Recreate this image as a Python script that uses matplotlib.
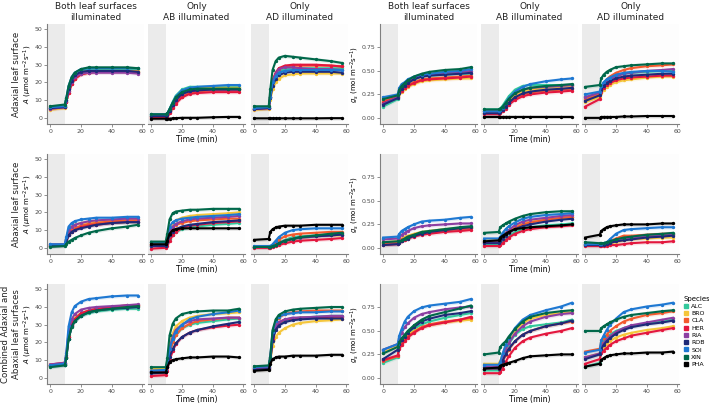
import matplotlib
matplotlib.use('Agg')
import numpy as np
import matplotlib.pyplot as plt
from matplotlib.lines import Line2D

species = ['ALC', 'BRO', 'CLA', 'HER', 'RIA', 'ROB', 'SOI', 'XIN', 'PHA']
colours = ['#33c99c', '#f5c63a', '#f35a2e', '#e3173e', '#8c3fa2', '#1f2a78', '#1e78d2', '#00684a', '#000000']
time_pts = [0, 9.5, 10.5, 12, 14, 16, 20, 25, 30, 40, 50, 57]

col_titles = ['Both leaf surfaces\nilluminated', 'Only\nAB illuminated', 'Only\nAD illuminated']
row_titles = ['Adaxial leaf surface', 'Abaxial leaf surface', 'Combined Adaxial and\nAbaxial leaf surfaces']

# ribbon half widths (SE)
a_se = 1.0
gs_se = 0.02

# ---- A, adaxial ----
a_adax_both = [
    [5.5, 6.5, 10, 16, 21, 24, 26.5, 27.5, 27.5, 27.5, 27.5, 27.5],
    [4.5, 5.5, 9, 15, 20, 23, 25.5, 26.5, 26.5, 26.5, 26.5, 26.5],
    [5, 6, 9, 14, 19, 22, 24.5, 25.5, 26, 26, 26, 26],
    [5.5, 6, 9, 14, 19, 22, 24.5, 25.5, 26, 26, 26, 25.5],
    [5, 6, 9.5, 15, 20, 23, 25, 25.5, 25.5, 25.5, 25.5, 25],
    [5.5, 6, 10, 16, 21, 24, 26, 26.5, 26.5, 26.5, 26.5, 26],
    [6, 6.5, 11, 18, 23, 25.5, 27.5, 28, 28, 28, 28, 28],
    [6.5, 7.5, 11, 18, 23, 25.5, 27.5, 28.5, 28.5, 28.5, 28.5, 28],
]
a_adax_ab = [
    [1.5, 1.5, 2, 5, 9, 12.5, 16, 17.5, 17.5, 17.5, 17.5, 17.5],
    [1, 1, 1.5, 4, 7.5, 10.5, 14, 16, 16.5, 17, 17, 17],
    [0.5, 0.5, 1, 3, 6, 8.5, 12, 14, 15, 15.5, 15.5, 15.5],
    [0, 0, 0.5, 2.5, 5.5, 8, 11.5, 13.5, 14, 14.5, 14.5, 14.5],
    [1, 1, 1.5, 4, 7, 10, 13.5, 15, 15.5, 16, 16, 16],
    [1, 1, 1.5, 4, 7, 10, 13.5, 15, 15.5, 16, 16, 16],
    [2, 2, 2.5, 5, 8.5, 12, 15.5, 17, 17.5, 18, 18.5, 18.5],
    [2, 2, 2.5, 5, 8.5, 11.5, 14.5, 16, 16.5, 16.5, 16.5, 16.5],
    [-0.5, -0.5, -0.5, -0.5, -0.3, -0.2, 0, 0, 0, 0.3, 0.5, 0.5],
]
a_adax_ad = [
    [5, 5.5, 12, 20, 24, 26, 27.5, 28, 28, 28, 28, 28],
    [4.5, 5, 10, 16, 20, 22, 24, 24.5, 25, 25, 25, 25],
    [5, 5.5, 12, 21, 25, 27.5, 29, 29.5, 29.5, 29.5, 29.5, 29],
    [5, 5.5, 12, 21, 25.5, 28, 29.5, 30, 30, 30, 29.5, 29],
    [5, 5.5, 12, 20, 25, 27.5, 28.5, 28.5, 28, 27.5, 27.5, 27],
    [5, 5.5, 11, 18, 22, 24, 25.5, 26, 26, 26, 26, 25.5],
    [5.5, 6, 12, 20, 23.5, 25.5, 26.5, 27, 27, 27, 27, 27],
    [6.5, 6.5, 16, 27, 32, 34, 35, 34.5, 34, 33, 32, 31],
    [-0.3, -0.3, -0.3, -0.3, -0.3, -0.3, -0.3, -0.3, -0.3, -0.3, -0.2, -0.2],
]

# ---- gs, adaxial ----
gs_adax_both = [
    [0.12, 0.2, 0.28, 0.31, 0.34, 0.37, 0.41, 0.44, 0.45, 0.46, 0.47, 0.47],
    [0.17, 0.23, 0.25, 0.28, 0.31, 0.33, 0.36, 0.39, 0.4, 0.41, 0.42, 0.42],
    [0.18, 0.23, 0.26, 0.29, 0.32, 0.35, 0.38, 0.41, 0.42, 0.43, 0.44, 0.45],
    [0.16, 0.22, 0.26, 0.29, 0.32, 0.34, 0.37, 0.4, 0.41, 0.42, 0.43, 0.44],
    [0.15, 0.22, 0.28, 0.32, 0.35, 0.38, 0.42, 0.45, 0.46, 0.48, 0.49, 0.5],
    [0.14, 0.21, 0.27, 0.31, 0.34, 0.37, 0.41, 0.44, 0.45, 0.46, 0.47, 0.48],
    [0.22, 0.25, 0.32, 0.36, 0.38, 0.41, 0.44, 0.46, 0.47, 0.49, 0.5, 0.52],
    [0.2, 0.24, 0.3, 0.34, 0.37, 0.4, 0.44, 0.47, 0.49, 0.51, 0.52, 0.54],
]
gs_adax_ab = [
    [0.09, 0.09, 0.1, 0.13, 0.18, 0.23, 0.3, 0.34, 0.35, 0.35, 0.35, 0.35],
    [0.07, 0.07, 0.08, 0.1, 0.14, 0.18, 0.24, 0.28, 0.3, 0.32, 0.33, 0.34],
    [0.05, 0.05, 0.06, 0.08, 0.11, 0.15, 0.21, 0.25, 0.27, 0.29, 0.3, 0.31],
    [0.04, 0.04, 0.05, 0.07, 0.1, 0.14, 0.19, 0.23, 0.25, 0.27, 0.28, 0.29],
    [0.07, 0.07, 0.08, 0.11, 0.15, 0.2, 0.26, 0.3, 0.32, 0.33, 0.34, 0.35],
    [0.05, 0.05, 0.06, 0.08, 0.12, 0.16, 0.22, 0.26, 0.28, 0.3, 0.31, 0.32],
    [0.07, 0.07, 0.08, 0.11, 0.16, 0.21, 0.28, 0.33, 0.36, 0.39, 0.41, 0.42],
    [0.09, 0.09, 0.1, 0.12, 0.16, 0.2, 0.26, 0.3, 0.32, 0.34, 0.35, 0.36],
    [0.01, 0.01, 0.01, 0.01, 0.01, 0.01, 0.01, 0.01, 0.01, 0.01, 0.01, 0.01],
]
gs_adax_ad = [
    [0.22, 0.26, 0.33, 0.37, 0.4, 0.42, 0.45, 0.47, 0.48, 0.49, 0.5, 0.5],
    [0.17, 0.22, 0.27, 0.3, 0.33, 0.35, 0.38, 0.4, 0.41, 0.43, 0.44, 0.44],
    [0.2, 0.25, 0.32, 0.37, 0.41, 0.44, 0.48, 0.51, 0.53, 0.55, 0.56, 0.57],
    [0.12, 0.2, 0.28, 0.32, 0.35, 0.37, 0.4, 0.42, 0.43, 0.44, 0.45, 0.45],
    [0.22, 0.27, 0.32, 0.36, 0.39, 0.41, 0.44, 0.47, 0.48, 0.5, 0.51, 0.52],
    [0.18, 0.24, 0.3, 0.34, 0.37, 0.39, 0.42, 0.44, 0.45, 0.46, 0.47, 0.47],
    [0.25, 0.28, 0.34, 0.38, 0.41, 0.43, 0.46, 0.48, 0.49, 0.5, 0.5, 0.49],
    [0.33, 0.35, 0.42, 0.46, 0.49, 0.51, 0.54, 0.55, 0.56, 0.57, 0.58, 0.58],
    [0.0, 0.0, 0.01, 0.01, 0.01, 0.01, 0.01, 0.015, 0.015, 0.02, 0.02, 0.02],
]

# ---- A, abaxial ----
a_abax_both = [
    [1, 1.5, 4, 8, 10, 11, 12, 13, 13.5, 14, 14.5, 14.5],
    [1.5, 2, 5, 10, 12, 13, 14, 14.5, 15, 15.5, 16, 16],
    [1.5, 2, 4, 8, 10, 11, 12.5, 13.5, 14, 15, 15.5, 15.5],
    [1, 1.5, 3.5, 7, 9, 10, 11.5, 12.5, 13, 14, 14.5, 14.5],
    [2, 2, 5, 10, 12, 13, 14, 15, 15.5, 16, 16.5, 16.5],
    [1, 1.5, 3.5, 7, 9, 10, 11, 12, 13, 14, 14.5, 14.5],
    [2, 2, 6, 12, 14, 15, 16, 16.5, 17, 17, 17.5, 17.5],
    [0.5, 1, 2, 3.5, 4.5, 5.5, 7, 8.5, 9.5, 11, 12, 13],
]
a_abax_ab = [
    [1, 1, 2, 5, 7.5, 9, 10.5, 11.5, 12, 13, 13.5, 14],
    [2, 2, 5, 11, 14, 15.5, 17, 18, 18.5, 19, 19.5, 20],
    [1.5, 1.5, 4, 9, 11.5, 13, 14, 15, 15.5, 16, 16.5, 16.5],
    [-0.5, 0, 1, 4, 7, 9, 11, 12.5, 13, 14, 14.5, 15],
    [1.5, 1.5, 4, 9, 12, 13.5, 15, 16, 16.5, 17, 17.5, 18],
    [1, 1, 3, 7, 9, 10.5, 12, 13, 13.5, 14.5, 15, 15.5],
    [3, 3, 6, 12, 14.5, 15.5, 16.5, 17, 17.5, 18, 18.5, 19],
    [3.5, 3.5, 8, 16, 19.5, 20.5, 21, 21.5, 21.5, 22, 22, 22],
    [2, 2, 4, 8, 10, 10.5, 11, 11, 11, 11, 11, 11],
]
a_abax_ad = [
    [0.5, 0.5, 0.5, 1, 2, 3, 4.5, 6, 6.5, 7, 7.5, 8],
    [0.5, 0.5, 0.5, 1, 1.5, 2.5, 4, 5, 5.5, 6.5, 7, 7],
    [0.5, 0.5, 0.5, 1.5, 3, 4.5, 6.5, 7.5, 8, 8.5, 9, 9],
    [0, 0, 0, 0.5, 1, 1.5, 2.5, 3.5, 4, 4.5, 5, 5.5],
    [0.5, 0.5, 0.5, 1, 1.5, 2.5, 4, 5, 5.5, 6.5, 7, 7.5],
    [0.5, 0.5, 0.5, 1, 1.5, 2.5, 4, 5, 6, 6.5, 7, 7.5],
    [1, 1, 1, 2, 4, 6, 8.5, 10, 10.5, 11, 11, 11],
    [0.5, 0.5, 0.5, 1, 1.5, 2.5, 4, 5, 6, 7, 8, 8.5],
    [4.5, 5, 9, 10.5, 11.5, 12, 12.5, 12.5, 12.5, 13, 13, 13],
]

# ---- gs, abaxial ----
gs_abax_both = [
    [0.05, 0.06, 0.07, 0.08, 0.1, 0.11, 0.13, 0.16, 0.17, 0.19, 0.2, 0.21],
    [0.06, 0.07, 0.08, 0.1, 0.12, 0.13, 0.15, 0.17, 0.18, 0.2, 0.21, 0.22],
    [0.05, 0.06, 0.07, 0.09, 0.1, 0.12, 0.14, 0.16, 0.17, 0.19, 0.2, 0.21],
    [0.03, 0.04, 0.05, 0.07, 0.08, 0.1, 0.12, 0.14, 0.15, 0.17, 0.18, 0.19],
    [0.09, 0.1, 0.12, 0.14, 0.16, 0.18, 0.21, 0.23, 0.24, 0.25, 0.26, 0.26],
    [0.03, 0.04, 0.05, 0.07, 0.09, 0.1, 0.13, 0.15, 0.17, 0.19, 0.21, 0.22],
    [0.11, 0.12, 0.15, 0.18, 0.2, 0.22, 0.25, 0.28, 0.29, 0.3, 0.32, 0.33],
    [0.06, 0.07, 0.07, 0.08, 0.1, 0.12, 0.14, 0.17, 0.18, 0.2, 0.22, 0.23],
]
gs_abax_ab = [
    [0.03, 0.03, 0.04, 0.06, 0.09, 0.12, 0.17, 0.2, 0.22, 0.24, 0.25, 0.26],
    [0.08, 0.08, 0.1, 0.13, 0.16, 0.19, 0.23, 0.26, 0.28, 0.3, 0.32, 0.33],
    [0.06, 0.06, 0.08, 0.11, 0.14, 0.17, 0.21, 0.25, 0.27, 0.3, 0.32, 0.33],
    [0.02, 0.02, 0.03, 0.05, 0.08, 0.11, 0.15, 0.18, 0.2, 0.22, 0.23, 0.24],
    [0.06, 0.06, 0.08, 0.12, 0.16, 0.19, 0.24, 0.28, 0.3, 0.32, 0.34, 0.35],
    [0.05, 0.05, 0.07, 0.1, 0.13, 0.16, 0.2, 0.23, 0.25, 0.28, 0.3, 0.31],
    [0.1, 0.1, 0.12, 0.16, 0.2, 0.23, 0.27, 0.31, 0.33, 0.35, 0.36, 0.37],
    [0.16, 0.17, 0.22, 0.24, 0.26, 0.28, 0.31, 0.34, 0.36, 0.38, 0.39, 0.39],
    [0.07, 0.08, 0.11, 0.13, 0.15, 0.17, 0.2, 0.21, 0.22, 0.23, 0.24, 0.25],
]
gs_abax_ad = [
    [0.04, 0.04, 0.04, 0.04, 0.05, 0.06, 0.08, 0.1, 0.11, 0.13, 0.14, 0.15],
    [0.03, 0.03, 0.03, 0.03, 0.04, 0.05, 0.06, 0.08, 0.09, 0.1, 0.11, 0.11],
    [0.03, 0.03, 0.03, 0.04, 0.05, 0.07, 0.1, 0.13, 0.13, 0.14, 0.15, 0.15],
    [0.02, 0.02, 0.02, 0.02, 0.02, 0.03, 0.03, 0.04, 0.05, 0.06, 0.06, 0.07],
    [0.04, 0.04, 0.04, 0.04, 0.05, 0.06, 0.07, 0.09, 0.1, 0.12, 0.13, 0.14],
    [0.03, 0.03, 0.03, 0.03, 0.04, 0.05, 0.07, 0.08, 0.09, 0.11, 0.12, 0.13],
    [0.04, 0.04, 0.04, 0.05, 0.06, 0.09, 0.15, 0.19, 0.2, 0.21, 0.22, 0.22],
    [0.06, 0.05, 0.05, 0.05, 0.06, 0.07, 0.09, 0.11, 0.12, 0.14, 0.15, 0.16],
    [0.11, 0.14, 0.18, 0.2, 0.22, 0.23, 0.24, 0.25, 0.25, 0.25, 0.26, 0.26],
]

# ---- A, combined ----
a_comb_both = [
    [6.5, 7.5, 11, 22, 29, 32, 35, 36.5, 37.5, 38.5, 39, 39],
    [7, 8, 12, 24, 31, 34, 36.5, 38, 39, 39.5, 40, 40.5],
    [7, 8, 12, 23, 30, 33, 36, 37.5, 38.5, 39.5, 40.5, 41],
    [7.5, 8.5, 12, 23, 30, 33, 36.5, 38, 39, 40, 41, 41],
    [7.5, 8.5, 13, 26, 33, 36, 38.5, 39.5, 40, 40.5, 41, 41.5],
    [6.5, 7.5, 11, 22, 29, 32, 35, 37, 38, 39, 39.5, 40],
    [7, 8, 14, 29, 37, 40.5, 43, 44.5, 45, 46, 46.5, 46.5],
    [6, 7, 11, 22, 28.5, 32, 35, 37, 38, 39, 40, 40.5],
]
a_comb_ab = [
    [3, 3, 6, 14, 20, 24, 28, 30, 31, 32, 33, 33.5],
    [5, 5, 9, 19, 25, 29, 32, 34, 35, 36, 36.5, 37],
    [3, 3, 6, 14, 20, 24, 28, 30.5, 32, 33, 34, 34],
    [1, 1.5, 4, 10, 15, 19, 23, 25.5, 27, 28.5, 29.5, 30],
    [4, 4, 8, 17, 23, 27, 30, 32, 33, 33.5, 34, 34],
    [2.5, 3, 6, 12, 16, 19.5, 23, 25.5, 27, 29, 30.5, 31.5],
    [4, 4.5, 8, 16, 22, 26, 30, 33, 34.5, 36, 37, 38],
    [6, 6, 11, 24, 30.5, 33.5, 36, 37, 37.5, 38, 38, 39],
    [3, 3, 6, 9, 10, 10.5, 11, 11.5, 11.5, 12, 12, 11.5],
]
a_comb_ad = [
    [5, 5.5, 10, 22, 28, 30.5, 32.5, 33.5, 34, 34.5, 35, 35],
    [4.5, 5, 9, 18, 23, 25.5, 28, 30, 31, 32, 32.5, 33],
    [5.5, 6, 11, 25, 31, 34, 36, 37, 37.5, 38, 38, 38],
    [5, 5.5, 10, 22, 28, 31, 33, 33.5, 34, 34, 34.5, 34.5],
    [5.5, 6, 11, 23, 29, 31.5, 33, 34, 34, 34.5, 35, 35],
    [4.5, 5, 9.5, 21, 27, 29.5, 31.5, 32.5, 33, 33.5, 33.5, 33.5],
    [6, 6.5, 12, 26, 32, 34.5, 36, 36.5, 37, 37, 37.5, 37.5],
    [6.5, 7, 12, 27, 33, 35.5, 37.5, 38.5, 39, 39.5, 40, 40],
    [4, 4.5, 8, 10.5, 11.5, 12, 12, 12.5, 12.5, 12.5, 13, 13],
]

# ---- gs, combined ----
gs_comb_both = [
    [0.16, 0.22, 0.33, 0.38, 0.42, 0.46, 0.52, 0.57, 0.6, 0.64, 0.67, 0.69],
    [0.27, 0.34, 0.37, 0.4, 0.43, 0.46, 0.5, 0.54, 0.56, 0.59, 0.61, 0.62],
    [0.18, 0.23, 0.32, 0.36, 0.4, 0.44, 0.49, 0.54, 0.57, 0.6, 0.62, 0.64],
    [0.19, 0.24, 0.31, 0.35, 0.39, 0.43, 0.48, 0.53, 0.56, 0.59, 0.62, 0.65],
    [0.3, 0.36, 0.42, 0.48, 0.54, 0.58, 0.64, 0.68, 0.7, 0.73, 0.75, 0.76],
    [0.2, 0.3, 0.36, 0.4, 0.44, 0.48, 0.54, 0.6, 0.63, 0.67, 0.69, 0.71],
    [0.3, 0.36, 0.45, 0.52, 0.6, 0.65, 0.71, 0.75, 0.77, 0.79, 0.81, 0.84],
    [0.26, 0.33, 0.38, 0.42, 0.46, 0.5, 0.56, 0.62, 0.66, 0.7, 0.74, 0.77],
]
gs_comb_ab = [
    [0.08, 0.08, 0.1, 0.18, 0.28, 0.36, 0.46, 0.52, 0.55, 0.57, 0.59, 0.62],
    [0.15, 0.15, 0.18, 0.25, 0.33, 0.4, 0.5, 0.58, 0.63, 0.67, 0.69, 0.7],
    [0.1, 0.1, 0.12, 0.17, 0.24, 0.3, 0.39, 0.46, 0.5, 0.55, 0.58, 0.6],
    [0.05, 0.05, 0.06, 0.1, 0.17, 0.23, 0.32, 0.39, 0.43, 0.47, 0.5, 0.53],
    [0.12, 0.12, 0.15, 0.22, 0.3, 0.37, 0.47, 0.55, 0.6, 0.65, 0.68, 0.69],
    [0.1, 0.1, 0.12, 0.18, 0.25, 0.31, 0.39, 0.46, 0.5, 0.55, 0.58, 0.61],
    [0.14, 0.14, 0.17, 0.26, 0.35, 0.42, 0.53, 0.62, 0.67, 0.72, 0.76, 0.8],
    [0.25, 0.27, 0.33, 0.36, 0.39, 0.44, 0.52, 0.6, 0.65, 0.69, 0.71, 0.72],
    [0.1, 0.11, 0.13, 0.14, 0.15, 0.16, 0.18, 0.21, 0.23, 0.24, 0.25, 0.25],
]
gs_comb_ad = [
    [0.12, 0.16, 0.37, 0.4, 0.43, 0.46, 0.5, 0.53, 0.55, 0.58, 0.6, 0.62],
    [0.22, 0.26, 0.3, 0.33, 0.36, 0.39, 0.43, 0.46, 0.48, 0.51, 0.53, 0.55],
    [0.28, 0.31, 0.38, 0.42, 0.46, 0.5, 0.55, 0.6, 0.63, 0.67, 0.69, 0.71],
    [0.15, 0.2, 0.26, 0.29, 0.32, 0.35, 0.39, 0.42, 0.45, 0.48, 0.51, 0.53],
    [0.22, 0.26, 0.33, 0.37, 0.41, 0.44, 0.49, 0.53, 0.56, 0.59, 0.62, 0.64],
    [0.2, 0.25, 0.31, 0.35, 0.39, 0.42, 0.47, 0.51, 0.54, 0.57, 0.59, 0.61],
    [0.27, 0.3, 0.4, 0.45, 0.51, 0.56, 0.63, 0.7, 0.73, 0.76, 0.78, 0.8],
    [0.5, 0.5, 0.53, 0.55, 0.57, 0.59, 0.62, 0.65, 0.67, 0.69, 0.71, 0.72],
    [0.12, 0.15, 0.19, 0.21, 0.23, 0.24, 0.25, 0.26, 0.26, 0.27, 0.27, 0.28],
]

panel_rows = [
    [a_adax_both, a_adax_ab, a_adax_ad, gs_adax_both, gs_adax_ab, gs_adax_ad],
    [a_abax_both, a_abax_ab, a_abax_ad, gs_abax_both, gs_abax_ab, gs_abax_ad],
    [a_comb_both, a_comb_ab, a_comb_ad, gs_comb_both, gs_comb_ab, gs_comb_ad],
]

narrow = ['Liberation Sans Narrow', 'DejaVu Sans']

W, H = 709, 403
fig = plt.figure(figsize=(W / 100, H / 100), dpi=100)
fig.patch.set_facecolor('white')

col_left = [47, 148, 251, 380, 481, 582]
col_w = 97
row_top = [24, 154, 284]
row_h = 100
row_lab_x = [17, 17, 11]

axis_grey = '#7f7f7f'
txt_grey = '#4d4d4d'

for r, panels in enumerate(panel_rows):
    for c, series in enumerate(panels):
        ax = fig.add_axes([col_left[c] / W, 1 - (row_top[r] + row_h) / H, col_w / W, row_h / H])
        ax.set_facecolor('#fdfdfd')
        is_a = c < 3
        ax.set_xlim(-2, 61)
        if is_a:
            ax.set_ylim(-3.5, 53)
            ax.set_yticks([0, 10, 20, 30, 40, 50])
            se = a_se
        else:
            ax.set_ylim(-0.065, 1.0)
            ax.set_yticks([0, 0.25, 0.5, 0.75])
            ax.set_yticklabels(['0.00', '0.25', '0.50', '0.75'])
            se = gs_se
        ax.axvspan(-2, 10, color='#ebebeb', lw=0, zorder=0)
        for vals, colr in zip(series, colours):
            v = np.array(vals, dtype=float)
            ax.fill_between(time_pts, v - se, v + se, color=colr, alpha=0.12, lw=0, zorder=1)
            ax.plot(time_pts, v, color=colr, lw=1.5, zorder=2,
                    marker='o', markersize=1.4)
        ax.set_xticks([0, 20, 40, 60])
        for s in ['top', 'right']:
            ax.spines[s].set_visible(False)
        for s in ['left', 'bottom']:
            ax.spines[s].set_color(axis_grey)
            ax.spines[s].set_linewidth(0.8)
        ax.tick_params(labelsize=4.5, colors=axis_grey, labelcolor=txt_grey,
                       length=2, width=0.6, pad=1.5)
        for lab in ax.get_xticklabels() + ax.get_yticklabels():
            lab.set_family(narrow)
        if c not in (0, 3):
            ax.tick_params(axis='y', left=False, labelleft=False)
            ax.spines['left'].set_visible(False)
        if c == 0:
            ax.set_ylabel(r'$\mathit{A}$ ($\mu$mol m$^{-2}$s$^{-1}$)', fontsize=5, family=narrow)
            ax.yaxis.set_label_coords(-0.135, 0.5)
        if c == 3:
            ax.set_ylabel(r'$g_s$ (mol m$^{-2}$s$^{-1}$)', fontsize=5, family=narrow)
            ax.yaxis.set_label_coords(-0.2, 0.5)
        if c in (1, 4):
            ax.set_xlabel('Time (min)', fontsize=5.5, labelpad=1, family=narrow)
        if r == 0:
            ax.set_title(col_titles[c % 3], fontsize=6.5, pad=3, color='#222222', family=narrow)

# row labels
for r, txt in enumerate(row_titles):
    yc = 1 - (row_top[r] + row_h / 2) / H
    fig.text(row_lab_x[r] / W, yc, txt, rotation=90, ha='center', va='center',
             fontsize=6.2, color='#222222', linespacing=1.2, family=narrow)

# legend
handles = [Line2D([0], [0], color=c, lw=0, marker='s', markersize=2.2) for c in colours]
leg = fig.legend(handles, species, title='Species', loc='upper left',
                 bbox_to_anchor=(680 / W, 1 - 292 / H), frameon=False,
                 prop={'family': narrow, 'size': 4.5}, handlelength=0.7,
                 handletextpad=0.5, labelspacing=0.3, borderpad=0.1)
leg.get_title().set_fontsize(5)
leg.get_title().set_family(narrow)
leg._legend_box.align = 'left'

fig.savefig('out.png', dpi=100, facecolor='white')
